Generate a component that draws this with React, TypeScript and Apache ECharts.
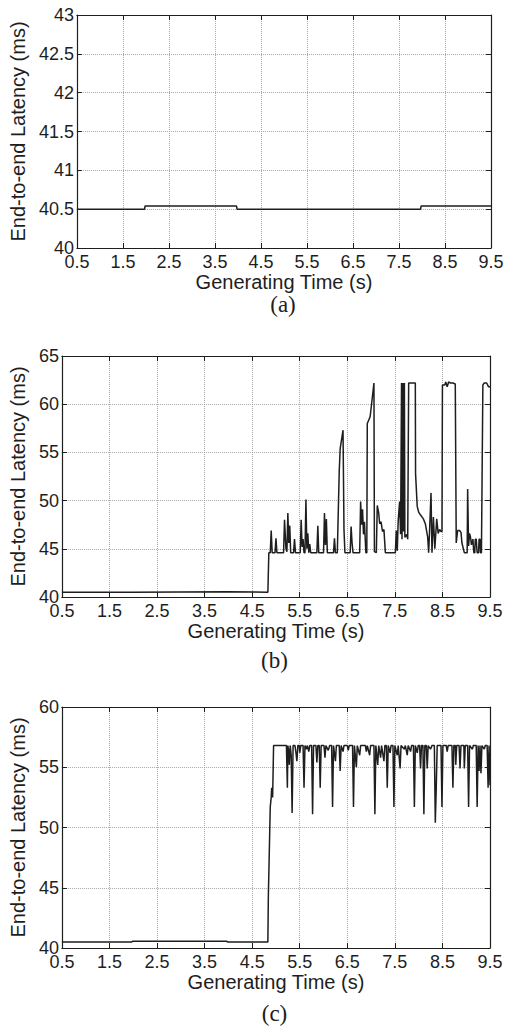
import React, { useEffect, useRef } from "react";
import * as echarts from "echarts";

// ---------- data ----------
const xTicks = ["0.5", "1.5", "2.5", "3.5", "4.5", "5.5", "6.5", "7.5", "8.5", "9.5"];
const xTitle = "Generating Time (s)";
const yTitle = "End-to-end Latency (ms)";
const captions = ["(a)", "(b)", "(c)"];

// (a)
const aX = [0.5, 1.97, 1.98, 3.97, 3.98, 7.97, 7.98, 9.5];
const aY = [40.5, 40.5, 40.54, 40.54, 40.5, 40.5, 40.54, 40.54];

// (b)
const bX = [
  0.5, 1.97, 1.98, 3.97, 3.98, 4.83, 4.85, 4.88, 4.9, 4.92, 4.98, 5.0, 5.02, 5.16, 5.18, 5.21, 5.23, 5.25, 5.27, 5.29,
  5.31, 5.37, 5.39, 5.41, 5.51, 5.53, 5.55, 5.57, 5.59, 5.61, 5.63, 5.65, 5.67, 5.69, 5.71, 5.73, 5.86, 5.88, 5.9, 6.0,
  6.02, 6.04, 6.06, 6.08, 6.21, 6.23, 6.25, 6.29, 6.33, 6.35, 6.41, 6.43, 6.45, 6.56, 6.58, 6.6, 6.62, 6.76, 6.78, 6.8,
  6.82, 6.84, 6.86, 6.89, 6.91, 6.92, 6.98, 7.06, 7.07, 7.11, 7.13, 7.16, 7.18, 7.21, 7.24, 7.27, 7.3, 7.51, 7.53, 7.55,
  7.57, 7.6, 7.62, 7.64, 7.65, 7.67, 7.68, 7.7, 7.71, 7.75, 7.77, 7.79, 7.93, 7.935, 7.97, 8.0, 8.04, 8.1, 8.14, 8.19,
  8.21, 8.23, 8.26, 8.28, 8.31, 8.34, 8.38, 8.41, 8.44, 8.47, 8.49, 8.5, 8.55, 8.57, 8.6, 8.63, 8.67, 8.72, 8.77, 8.79,
  8.82, 8.86, 8.89, 8.91, 8.96, 9.02, 9.03, 9.05, 9.07, 9.09, 9.11, 9.14, 9.16, 9.18, 9.19, 9.21, 9.23, 9.26, 9.27, 9.29,
  9.3, 9.32, 9.35, 9.38, 9.43, 9.47, 9.5,
];
const bY = [
  40.5, 40.5, 40.55, 40.55, 40.5, 40.5, 44.6, 44.6, 46.9, 44.6, 44.6, 46.1, 44.6, 44.6, 48.0, 45.0, 44.7, 48.7, 45.6, 47.4,
  44.6, 44.6, 46.0, 44.6, 44.6, 48.0, 45.2, 46.0, 44.6, 44.6, 50.1, 45.0, 46.6, 44.6, 45.5, 44.6, 44.6, 47.4, 44.6, 44.6,
  48.7, 45.4, 48.1, 44.6, 44.6, 46.1, 44.6, 44.6, 53.0, 55.4, 57.3, 47.0, 44.6, 44.6, 47.3, 45.6, 44.6, 44.6, 49.9, 47.5,
  49.1, 46.5, 47.8, 44.6, 44.6, 58.0, 58.7, 62.2, 44.7, 44.6, 49.5, 48.7, 47.6, 47.8, 46.8, 47.0, 44.6, 44.6, 46.9, 44.8,
  47.9, 49.9, 46.5, 62.2, 46.0, 62.2, 46.8, 62.2, 46.2, 46.5, 46.0, 62.2, 62.2, 52.8, 49.4, 48.8, 48.5, 48.1, 47.6, 46.2,
  44.6, 46.9, 50.8, 44.6, 48.3, 45.0, 48.1, 46.6, 47.0, 46.8, 46.8, 62.0, 62.0, 62.3, 61.8, 62.3, 62.2, 62.2, 62.1, 45.6,
  46.9, 46.9, 46.7, 45.6, 44.6, 44.6, 51.2, 45.3, 46.6, 46.2, 45.4, 46.0, 44.6, 44.6, 46.0, 46.0, 44.6, 44.6, 46.0, 46.0,
  44.6, 44.6, 62.0, 62.2, 62.2, 61.8, 61.8,
];

// (c)
const cX = [
  0.5, 1.97, 1.98, 3.97, 3.98, 4.83, 4.84, 4.88, 4.9, 4.91, 4.93, 4.95, 5.22, 5.24, 5.25, 5.27, 5.28, 5.3, 5.32, 5.34,
  5.36, 5.4, 5.42, 5.44, 5.46, 5.49, 5.5, 5.52, 5.57, 5.59, 5.61, 5.64, 5.66, 5.69, 5.71, 5.75, 5.77, 5.79, 5.84, 5.86,
  5.88, 5.91, 5.93, 5.95, 6.01, 6.03, 6.05, 6.1, 6.13, 6.17, 6.19, 6.21, 6.25, 6.27, 6.33, 6.35, 6.37, 6.41, 6.43, 6.5,
  6.52, 6.54, 6.61, 6.63, 6.65, 6.69, 6.71, 6.76, 6.78, 6.88, 6.9, 6.92, 6.97, 6.99, 7.06, 7.08, 7.1, 7.14, 7.16, 7.2,
  7.22, 7.27, 7.29, 7.32, 7.34, 7.36, 7.4, 7.42, 7.46, 7.48, 7.5, 7.55, 7.57, 7.61, 7.63, 7.7, 7.72, 7.76, 7.78, 7.83,
  7.85, 7.89, 7.91, 7.93, 7.97, 7.99, 8.02, 8.04, 8.06, 8.09, 8.11, 8.13, 8.16, 8.18, 8.2, 8.25, 8.28, 8.33, 8.35, 8.37,
  8.39, 8.47, 8.49, 8.51, 8.58, 8.6, 8.62, 8.7, 8.72, 8.74, 8.77, 8.78, 8.8, 8.85, 8.87, 8.89, 8.95, 8.96, 8.98, 9.03,
  9.05, 9.07, 9.13, 9.15, 9.21, 9.23, 9.25, 9.27, 9.29, 9.31, 9.33, 9.38, 9.4, 9.44, 9.46, 9.48, 9.5,
];
const cY = [
  40.5, 40.5, 40.55, 40.55, 40.5, 40.5, 44.3, 51.7, 52.5, 53.3, 52.5, 56.8, 56.8, 53.3, 56.8, 56.3, 55.2, 56.8, 56.0, 51.2,
  56.8, 56.8, 56.2, 55.5, 56.8, 56.8, 56.2, 56.8, 56.8, 53.3, 56.8, 56.5, 56.8, 56.3, 56.8, 56.8, 51.1, 56.8, 56.8, 55.4,
  56.8, 56.8, 53.3, 56.8, 56.8, 55.8, 56.8, 56.4, 56.8, 56.8, 51.7, 56.8, 55.5, 56.8, 56.8, 54.7, 56.8, 56.3, 56.8, 56.8,
  56.4, 56.8, 56.8, 51.7, 56.8, 55.0, 56.8, 56.0, 56.8, 56.8, 56.3, 56.8, 56.0, 56.8, 56.8, 51.1, 56.8, 55.2, 56.8, 55.8,
  56.8, 55.5, 56.8, 56.8, 53.3, 56.8, 56.2, 56.8, 56.8, 51.7, 56.8, 56.0, 56.8, 54.9, 56.8, 56.5, 56.8, 56.0, 56.8, 56.3,
  56.8, 56.8, 51.7, 56.8, 56.2, 56.8, 56.8, 54.9, 56.8, 56.8, 51.1, 56.8, 56.8, 54.9, 56.8, 56.5, 56.8, 56.8, 50.4, 53.3,
  56.8, 56.8, 51.7, 56.8, 56.8, 56.3, 56.8, 56.8, 53.3, 56.8, 56.8, 55.2, 56.8, 56.8, 54.9, 56.8, 56.8, 54.9, 56.8, 56.8,
  51.7, 56.8, 56.5, 56.8, 56.8, 51.7, 56.8, 54.7, 56.8, 54.5, 56.8, 56.5, 56.8, 56.8, 53.3, 56.8, 53.5,
];

const yRanges = [
  { min: 40, max: 43, interval: 0.5 },
  { min: 40, max: 65, interval: 5 },
  { min: 40, max: 60, interval: 5 },
];

// ---------- layout ----------
const grids = [
  { left: 75, top: 15, width: 416, height: 233 },
  { left: 59, top: 356, width: 431, height: 241 },
  { left: 59, top: 707, width: 431, height: 241 },
];
const yNameGaps = [37, 21, 21];
const captionY = [304, 660, 1013];

const FONT = "'Liberation Sans', Arial, Helvetica, sans-serif";
const INK = "#1e1e1e";

export default function App() {
  const ref = useRef<HTMLDivElement>(null);

  useEffect(() => {
    if (!ref.current) return;
    const chart = echarts.init(ref.current, undefined, { renderer: "svg" });
    const datasets = [
      aX.map((x, i) => [x, aY[i]]),
      bX.map((x, i) => [x, bY[i]]),
      cX.map((x, i) => [x, cY[i]]),
    ];

    const tickStyle = { inside: true, length: 5, lineStyle: { color: INK, width: 1 } };
    const lineStyle = { lineStyle: { color: INK, width: 1.2 } };
    const splitLine = { show: true, lineStyle: { type: "dotted" as const, color: "#a8a8a8", width: 1 } };

    const xAxes: any[] = [];
    const yAxes: any[] = [];
    grids.forEach((_, i) => {
      xAxes.push({
        type: "value",
        gridIndex: i,
        min: 0.5,
        max: 9.5,
        interval: 1,
        position: "bottom",
        axisLine: { show: true, ...lineStyle },
        axisTick: tickStyle,
        splitLine,
        axisLabel: {
          color: INK,
          fontSize: 18,
          fontFamily: FONT,
          margin: 5,
          showMinLabel: true,
          showMaxLabel: true,
          formatter: (v: number) => {
            const s = v.toFixed(1);
            return xTicks.includes(s) ? s : "";
          },
        },
        name: xTitle,
        nameLocation: "middle",
        nameGap: 22,
        nameTextStyle: { color: INK, fontSize: 20, fontFamily: FONT },
      });
      yAxes.push({
        type: "value",
        gridIndex: i,
        ...yRanges[i],
        position: "left",
        axisLine: { show: true, ...lineStyle },
        axisTick: tickStyle,
        splitLine,
        axisLabel: {
          color: INK,
          fontSize: 18,
          fontFamily: FONT,
          margin: 3,
          showMinLabel: true,
          showMaxLabel: true,
        },
        name: yTitle,
        nameLocation: "middle",
        nameGap: yNameGaps[i],
        nameTextStyle: { color: INK, fontSize: 20, fontFamily: FONT },
      });
    });
    grids.forEach((_, i) => {
      xAxes.push({
        type: "value",
        gridIndex: i,
        min: 0.5,
        max: 9.5,
        interval: 1,
        position: "top",
        axisLine: { show: true, ...lineStyle },
        axisTick: tickStyle,
        axisLabel: { show: false },
        splitLine: { show: false },
      });
      yAxes.push({
        type: "value",
        gridIndex: i,
        ...yRanges[i],
        position: "right",
        axisLine: { show: true, ...lineStyle },
        axisTick: tickStyle,
        axisLabel: { show: false },
        splitLine: { show: false },
      });
    });

    chart.setOption({
      animation: false,
      backgroundColor: "#ffffff",
      grid: grids.map((g) => ({ ...g, containLabel: false })),
      xAxis: xAxes,
      yAxis: yAxes,
      series: datasets.map((d, i) => ({
        type: "line",
        xAxisIndex: i,
        yAxisIndex: i,
        data: d,
        showSymbol: false,
        symbol: "none",
        lineStyle: { color: INK, width: 1.5 },
        z: 5,
      })),
      graphic: captions.map((t, i) => ({
        type: "text",
        x: grids[i].left + grids[i].width / 2,
        y: captionY[i],
        style: {
          text: t,
          fill: INK,
          font: "23px 'Liberation Serif', 'Times New Roman', serif",
          textAlign: "center",
          textVerticalAlign: "middle",
        },
      })),
    });

    return () => chart.dispose();
  }, []);

  return (
    <div
      ref={ref}
      style={{ position: "absolute", left: 0, top: 0, width: 510, height: 1028, background: "#fff" }}
    />
  );
}
